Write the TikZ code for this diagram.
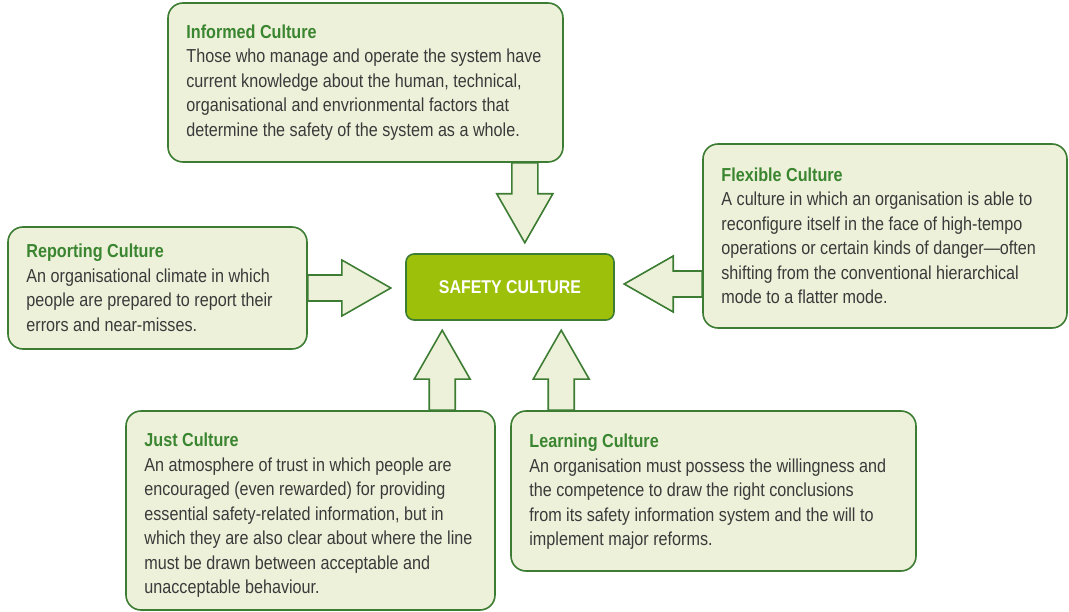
\documentclass[tikz,border=0pt]{standalone}
\usepackage{fontspec}
\setmainfont{Liberation Sans}[FakeStretch=0.86]
\usetikzlibrary{positioning}
\usetikzlibrary{calc}
\usetikzlibrary{backgrounds}

\definecolor{boxgreen}{HTML}{3D7D33}
\definecolor{titlegreen}{HTML}{3A8530}
\definecolor{boxfill}{HTML}{EEF1DA}
\definecolor{corefill}{HTML}{9DC10A}
\definecolor{bodygray}{HTML}{3A3A3A}

% block arrow: start coordinate, direction, length
\newcommand{\culturearrow}[3]{%
  \draw[blockarrow, shift={(#1)}, rotate=#2]
    (0,-\shaft) -- (#3-\headlen,-\shaft) -- (#3-\headlen,-\headw) -- (#3,0)
    -- (#3-\headlen,\headw) -- (#3-\headlen,\shaft) -- (0,\shaft) -- cycle;
}

\begin{document}
\begin{tikzpicture}[x=1pt, y=1pt,
    culturebox/.style={draw=boxgreen, fill=boxfill, line width=1.6pt, rounded corners=15pt, inner sep=0pt},
    culturetext/.style={anchor=west, align=left, inner sep=0pt, text=bodygray, font=\fontsize{18.8}{24.5}\selectfont},
    corebox/.style={draw=boxgreen, fill=corefill, line width=1.6pt, rounded corners=8pt, text=white, font=\fontsize{18.5}{20}\selectfont\bfseries},
    blockarrow/.style={draw=boxgreen, fill=boxfill, line width=1.6pt, line join=miter}]
      % Half width of the shaft, half width and length of the head
      \def\shaft{13}
      \def\headw{28}
      \def\headlen{49}
      \useasboundingbox (0,0) rectangle (1069,-612);
      % Centre box
      \node[corebox, minimum width=208, minimum height=66] (safety) at (510,-287) {SAFETY CULTURE};
      % The five cultures around it
      \node[culturebox, minimum width=395, minimum height=159] (informed) at (365.5,-82.5) {};
      \node[culturebox, minimum width=299, minimum height=122] (reporting) at (157.5,-288) {};
      \node[culturebox, minimum width=364, minimum height=184] (flexible) at (885,-236) {};
      \node[culturebox, minimum width=369, minimum height=199] (just) at (310.5,-510.5) {};
      \node[culturebox, minimum width=405, minimum height=160] (learning) at (713.5,-491) {};
      % Texts, set in from the left edge of each box
      \node[culturetext] (informed-text) at ($(informed.west)+(19,0)$)
        {\textbf{\color{titlegreen}Informed Culture}\\
         Those who manage and operate the system have\\
         current knowledge about the human, technical,\\
         organisational and envrionmental factors that\\
         determine the safety of the system as a whole.};
      \node[culturetext] (reporting-text) at ($(reporting.west)+(19,0)$)
        {\textbf{\color{titlegreen}Reporting Culture}\\
         An organisational climate in which\\
         people are prepared to report their\\
         errors and near-misses.};
      \node[culturetext] (flexible-text) at ($(flexible.west)+(19,0)$)
        {\textbf{\color{titlegreen}Flexible Culture}\\
         A culture in which an organisation is able to\\
         reconfigure itself in the face of high-tempo\\
         operations or certain kinds of danger---often\\
         shifting from the conventional hierarchical\\
         mode to a flatter mode.};
      \node[culturetext] (just-text) at ($(just.west)+(19,-5)$)
        {\textbf{\color{titlegreen}Just Culture}\\
         An atmosphere of trust in which people are\\
         encouraged (even rewarded) for providing\\
         essential safety-related information, but in\\
         which they are also clear about where the line\\
         must be drawn between acceptable and\\
         unacceptable behaviour.};
      \node[culturetext] (learning-text) at ($(learning.west)+(19,-1)$)
        {\textbf{\color{titlegreen}Learning Culture}\\
         An organisation must possess the willingness and\\
         the competence to draw the right conclusions\\
         from its safety information system and the will to\\
         implement major reforms.};
      % Arrow feet on the box edges
      \coordinate (informed-out) at ($(informed.south east)+(-39,0)$);
      \coordinate (flexible-out) at ($(flexible.west)+(0,-48)$);
      \coordinate (just-out) at ($(just.north west)+(317,0)$);
      \coordinate (learning-out) at ($(learning.north west)+(51,0)$);
      % Block arrows pointing at the centre box, behind the boxes
      \begin{scope}[on background layer]
        \culturearrow{informed-out}{-90}{80}
        \culturearrow{reporting.east}{0}{83}
        \culturearrow{flexible-out}{180}{78}
        \culturearrow{just-out}{90}{80}
        \culturearrow{learning-out}{90}{80}
      \end{scope}
\end{tikzpicture}
\end{document}
